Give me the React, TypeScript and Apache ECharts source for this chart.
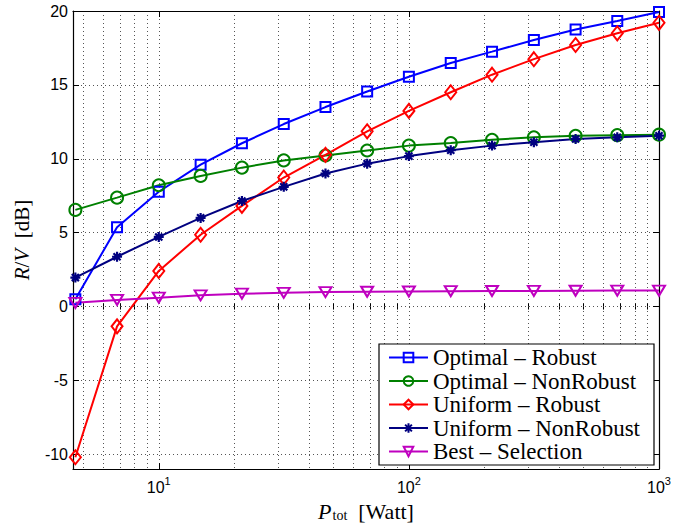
import React, { useEffect, useRef } from 'react';
import * as echarts from 'echarts';

const P_TOT = [4.64, 6.81, 10, 14.7, 21.5, 31.6, 46.4, 68.1, 100, 147, 215, 316, 464, 681, 1000];
const OPTIMAL_ROBUST = [0.5, 5.36, 7.77, 9.6, 11.05, 12.35, 13.5, 14.55, 15.55, 16.48, 17.25, 18.04, 18.75, 19.33, 19.93];
const OPTIMAL_NONROBUST = [6.54, 7.37, 8.21, 8.84, 9.4, 9.89, 10.22, 10.56, 10.89, 11.07, 11.29, 11.45, 11.56, 11.6, 11.63];
const UNIFORM_ROBUST = [-10.2, -1.34, 2.41, 4.86, 6.81, 8.73, 10.27, 11.86, 13.24, 14.5, 15.69, 16.74, 17.7, 18.49, 19.2];
const UNIFORM_NONROBUST = [1.96, 3.37, 4.71, 6.0, 7.14, 8.1, 9.0, 9.67, 10.18, 10.58, 10.89, 11.12, 11.34, 11.45, 11.56];
const BEST_SELECTION = [0.25, 0.45, 0.6, 0.76, 0.87, 0.93, 0.98, 1.0, 1.02, 1.04, 1.05, 1.06, 1.07, 1.08, 1.08];

const SERIES_NAMES = [
  'Optimal – Robust',
  'Optimal – NonRobust',
  'Uniform – Robust',
  'Uniform – NonRobust',
  'Best – Selection',
];

const Y_TICKS = [-10, -5, 0, 5, 10, 15, 20];
const X_MAJOR = [10, 100, 1000];
const X_MINOR = [5, 6, 7, 8, 9, 20, 30, 40, 50, 60, 70, 80, 90, 200, 300, 400, 500, 600, 700, 800, 900];
const X_MIN = 4.54;
const X_MAX = 1000;
const Y_MIN = -11;
const Y_MAX = 20;

const SERIF = '"Liberation Serif", "Times New Roman", serif';
const SANS = '"Liberation Sans", Arial, sans-serif';

const ASTERISK = 'path://M5 0L5 10M0 5L10 5M1.46 1.46L8.54 8.54M8.54 1.46L1.46 8.54';

export default function App() {
  const ref = useRef<HTMLDivElement>(null);

  useEffect(() => {
    if (!ref.current) return;
    const chart = echarts.init(ref.current, undefined, { renderer: 'svg' });
    const lx = (v: number) => Math.log10(v);
    const xMin = lx(X_MIN);
    const xMax = lx(X_MAX);
    const majorLog = X_MAJOR.map(lx);
    const minorLog = X_MINOR.map(lx);

    const grid = {
      show: false,
      left: 73,
      right: 40,
      top: 11,
      bottom: 57,
      containLabel: false,
    };

    const gridLine = { show: true, lineStyle: { color: '#555', width: 1, type: [1, 3] as any } };
    const axisLine = { show: true, onZero: false, lineStyle: { color: '#000', width: 1.2 } };

    const mk = (
      name: string,
      vals: number[],
      color: string,
      symbol: string,
      symbolSize: any,
      extra: any = {}
    ) => ({
      name,
      type: 'line',
      xAxisIndex: 0,
      yAxisIndex: 0,
      data: P_TOT.map((p, i) => [lx(p), vals[i]]),
      symbol,
      symbolSize,
      showAllSymbol: true,
      lineStyle: { color, width: 2 },
      itemStyle: { color: 'rgba(0,0,0,0)', borderColor: color, borderWidth: 2 },
      emphasis: { disabled: true },
      ...extra,
    });

    const option: any = {
      animation: false,
      backgroundColor: '#fff',
      textStyle: { fontFamily: SANS },
      grid,
      legend: {
        data: SERIES_NAMES,
        orient: 'vertical',
        left: 379,
        top: 344,
        padding: [2, 14, 2, 9],
        itemGap: 0.5,
        itemWidth: 39,
        itemHeight: 12,
        backgroundColor: '#fff',
        borderColor: '#000',
        borderWidth: 1.2,
        borderRadius: 0,
        selectedMode: false,
        textStyle: {
          fontFamily: SERIF,
          fontSize: 23,
          lineHeight: 22,
          color: '#000',
        },
      },
      xAxis: [
        {
          type: 'value',
          position: 'bottom',
          min: xMin,
          max: xMax,
          axisLine,
          axisTick: { show: true, inside: true, length: 6, customValues: majorLog, lineStyle: { color: '#000' } },
          axisLabel: {
            show: true,
            customValues: majorLog,
            margin: 6,
            color: '#000',
            fontFamily: SANS,
            formatter: (v: number) => `{b|10}{e|${Math.round(v)}}`,
            rich: {
              b: { fontFamily: SANS, fontSize: 16, lineHeight: 18, padding: [6, 0, 0, 0], color: '#000' },
              e: { fontFamily: SANS, fontSize: 11, lineHeight: 12, verticalAlign: 'top', color: '#000' },
            },
          },
          splitLine: gridLine,
          name: '{p|P}{s|tot}{w|  [Watt]}',
          nameLocation: 'middle',
          nameGap: 28,
          nameTextStyle: {
            fontFamily: SERIF,
            rich: {
              p: { fontFamily: SERIF, fontStyle: 'italic', fontSize: 22, lineHeight: 22, padding: [0, 1, 4, 0], verticalAlign: 'top', color: '#000' },
              s: { fontFamily: SERIF, fontSize: 14, lineHeight: 14, verticalAlign: 'bottom', color: '#000' },
              w: { fontFamily: SERIF, fontSize: 22, lineHeight: 22, verticalAlign: 'top', color: '#000' },
            },
          },
        },
        {
          type: 'value',
          position: 'top',
          min: xMin,
          max: xMax,
          axisLine,
          axisTick: { show: true, inside: true, length: 6, customValues: majorLog, lineStyle: { color: '#000' } },
          axisLabel: { show: false },
          splitLine: { show: false },
        },
        {
          type: 'value',
          position: 'bottom',
          min: xMin,
          max: xMax,
          axisLine: { show: false },
          axisTick: { show: true, inside: true, length: 3, customValues: minorLog, lineStyle: { color: '#000' } },
          axisLabel: { show: false },
          splitLine: gridLine,
        },
        {
          type: 'value',
          position: 'top',
          min: xMin,
          max: xMax,
          axisLine: { show: false },
          axisTick: { show: true, inside: true, length: 3, customValues: minorLog, lineStyle: { color: '#000' } },
          axisLabel: { show: false },
          splitLine: { show: false },
        },
      ],
      yAxis: [
        {
          type: 'value',
          position: 'left',
          min: Y_MIN,
          max: Y_MAX,
          axisLine,
          axisTick: { show: true, inside: true, length: 6, customValues: Y_TICKS, lineStyle: { color: '#000' } },
          axisLabel: {
            show: true,
            customValues: Y_TICKS,
            margin: 5,
            color: '#000',
            fontFamily: SANS,
            fontSize: 16,
          },
          splitLine: gridLine,
          name: '{i|R}{n|/}{i|V}{n|  [dB]}',
          nameLocation: 'middle',
          nameRotate: 90,
          nameGap: 41,
          nameTextStyle: {
            fontFamily: SERIF,
            rich: {
              i: { fontFamily: SERIF, fontStyle: 'italic', fontSize: 21, color: '#000' },
              n: { fontFamily: SERIF, fontSize: 21, color: '#000' },
            },
          },
        },
        {
          type: 'value',
          position: 'right',
          min: Y_MIN,
          max: Y_MAX,
          axisLine,
          axisTick: { show: true, inside: true, length: 6, customValues: Y_TICKS, lineStyle: { color: '#000' } },
          axisLabel: { show: false },
          splitLine: { show: false },
        },
      ],
      series: [
        mk(SERIES_NAMES[0], OPTIMAL_ROBUST, '#0000ff', 'rect', 10),
        mk(SERIES_NAMES[1], OPTIMAL_NONROBUST, '#008000', 'circle', 12),
        mk(SERIES_NAMES[2], UNIFORM_ROBUST, '#ff0000', 'diamond', [11, 14]),
        mk(SERIES_NAMES[3], UNIFORM_NONROBUST, '#000080', ASTERISK, 10, {
          itemStyle: { color: '#000080', borderColor: '#000080', borderWidth: 2.2 },
        }),
        mk(SERIES_NAMES[4], BEST_SELECTION, '#bf00bf', 'triangle', [12, 10], { symbolRotate: 180 }),
      ],
    };

    chart.setOption(option);
    return () => chart.dispose();
  }, []);

  return (
    <div
      ref={ref}
      style={{ position: 'fixed', left: 0, top: 0, width: 699, height: 531, background: '#fff' }}
    />
  );
}
